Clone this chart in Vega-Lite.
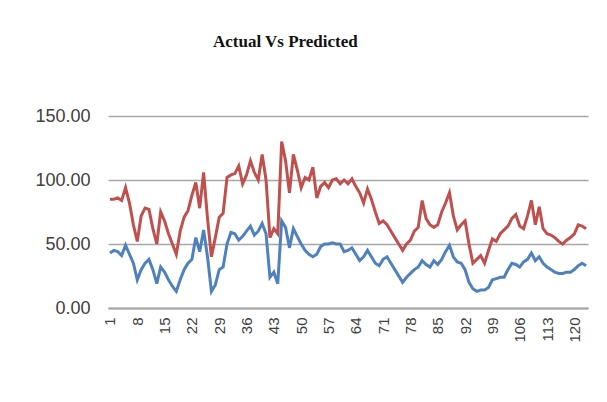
{
  "$schema": "https://vega.github.io/schema/vega-lite/v6.json",
  "width": 480,
  "height": 192,
  "autosize": {"type": "none"},
  "padding": {"left": 108, "top": 116, "right": 19, "bottom": 94},
  "background": "white",
  "title": {
    "text": "Actual Vs Predicted",
    "anchor": "start",
    "dx": 178,
    "offset": 56,
    "font": "Liberation Serif",
    "fontSize": 17,
    "fontWeight": "bold",
    "color": "#111111"
  },
  "config": {
    "view": {"stroke": null},
    "axis": {"labelFont": "Liberation Sans", "labelColor": "#404040", "title": null}
  },
  "data": {
    "values": [
      {"i":1,"p":85,"a":43},{"i":2,"p":85,"a":45},{"i":3,"p":86,"a":44},{"i":4,"p":84,"a":41},{"i":5,"p":94,"a":49},
      {"i":6,"p":82,"a":42},{"i":7,"p":65,"a":35},{"i":8,"p":52,"a":22},{"i":9,"p":72,"a":30},{"i":10,"p":78,"a":35},
      {"i":11,"p":77,"a":38},{"i":12,"p":62,"a":30},{"i":13,"p":50,"a":19},{"i":14,"p":75,"a":32},{"i":15,"p":68,"a":28},
      {"i":16,"p":58,"a":22},{"i":17,"p":50,"a":17},{"i":18,"p":42,"a":13},{"i":19,"p":60,"a":22},{"i":20,"p":71,"a":30},
      {"i":21,"p":76,"a":35},{"i":22,"p":88,"a":38},{"i":23,"p":98,"a":55},{"i":24,"p":78,"a":44},{"i":25,"p":106,"a":61},
      {"i":26,"p":70,"a":40},{"i":27,"p":40,"a":13},{"i":28,"p":55,"a":18},{"i":29,"p":71,"a":30},{"i":30,"p":74,"a":32},
      {"i":31,"p":102,"a":50},{"i":32,"p":104,"a":59},{"i":33,"p":105,"a":58},{"i":34,"p":111,"a":53},{"i":35,"p":97,"a":56},
      {"i":36,"p":104,"a":60},{"i":37,"p":115,"a":64},{"i":38,"p":106,"a":57},{"i":39,"p":100,"a":60},{"i":40,"p":120,"a":66},
      {"i":41,"p":100,"a":58},{"i":42,"p":55,"a":24},{"i":43,"p":62,"a":28},{"i":44,"p":58,"a":19},{"i":45,"p":130,"a":68},
      {"i":46,"p":115,"a":63},{"i":47,"p":90,"a":47},{"i":48,"p":120,"a":62},{"i":49,"p":108,"a":56},{"i":50,"p":94,"a":50},
      {"i":51,"p":102,"a":45},{"i":52,"p":100,"a":42},{"i":53,"p":110,"a":40},{"i":54,"p":86,"a":42},{"i":55,"p":95,"a":48},
      {"i":56,"p":98,"a":50},{"i":57,"p":94,"a":50},{"i":58,"p":100,"a":51},{"i":59,"p":101,"a":50},{"i":60,"p":97,"a":50},
      {"i":61,"p":100,"a":44},{"i":62,"p":97,"a":45},{"i":63,"p":101,"a":47},{"i":64,"p":95,"a":42},{"i":65,"p":90,"a":37},
      {"i":66,"p":82,"a":40},{"i":67,"p":93,"a":45},{"i":68,"p":85,"a":40},{"i":69,"p":75,"a":35},{"i":70,"p":66,"a":33},
      {"i":71,"p":68,"a":38},{"i":72,"p":65,"a":40},{"i":73,"p":60,"a":35},{"i":74,"p":55,"a":30},{"i":75,"p":50,"a":25},
      {"i":76,"p":45,"a":20},{"i":77,"p":50,"a":24},{"i":78,"p":53,"a":27},{"i":79,"p":60,"a":30},{"i":80,"p":63,"a":32},
      {"i":81,"p":84,"a":37},{"i":82,"p":70,"a":34},{"i":83,"p":65,"a":32},{"i":84,"p":63,"a":37},{"i":85,"p":65,"a":34},
      {"i":86,"p":75,"a":38},{"i":87,"p":82,"a":44},{"i":88,"p":90,"a":49},{"i":89,"p":72,"a":40},{"i":90,"p":61,"a":36},
      {"i":91,"p":65,"a":35},{"i":92,"p":68,"a":30},{"i":93,"p":50,"a":20},{"i":94,"p":35,"a":15},{"i":95,"p":38,"a":13},
      {"i":96,"p":41,"a":14},{"i":97,"p":35,"a":14},{"i":98,"p":45,"a":16},{"i":99,"p":54,"a":22},{"i":100,"p":52,"a":23},
      {"i":101,"p":58,"a":24},{"i":102,"p":61,"a":24},{"i":103,"p":64,"a":30},{"i":104,"p":70,"a":35},{"i":105,"p":73,"a":34},
      {"i":106,"p":64,"a":32},{"i":107,"p":62,"a":36},{"i":108,"p":72,"a":38},{"i":109,"p":84,"a":43},{"i":110,"p":65,"a":37},
      {"i":111,"p":79,"a":40},{"i":112,"p":62,"a":35},{"i":113,"p":58,"a":32},{"i":114,"p":57,"a":30},{"i":115,"p":55,"a":28},
      {"i":116,"p":52,"a":27},{"i":117,"p":50,"a":27},{"i":118,"p":53,"a":28},{"i":119,"p":55,"a":28},{"i":120,"p":58,"a":30},
      {"i":121,"p":65,"a":33},{"i":122,"p":64,"a":35},{"i":123,"p":62,"a":33}
    ]
  },
  "encoding": {
    "x": {
      "field": "i",
      "type": "quantitative",
      "scale": {"domain": [0.5, 123.5], "nice": false, "zero": false},
      "axis": {
        "values": [1, 8, 15, 22, 29, 36, 43, 50, 57, 64, 71, 78, 85, 92, 99, 106, 113, 120],
        "labelAngle": -90,
        "labelFontSize": 15,
        "labelPadding": 9,
        "ticks": false,
        "grid": false,
        "domainColor": "#a6a6a6",
        "domainWidth": 2,
        "labelColor": "#404040"
      }
    }
  },
  "layer": [
    {
      "mark": {"type": "line", "color": "#C0504D", "strokeWidth": 3},
      "encoding": {
        "y": {
          "field": "p",
          "type": "quantitative",
          "scale": {"domain": [0, 150], "nice": false},
          "axis": {
            "values": [0, 50, 100, 150],
            "format": ".2f",
            "labelFontSize": 18,
            "labelPadding": 18,
            "ticks": false,
            "domain": false,
            "grid": true,
            "gridColor": "#a6a6a6",
            "gridWidth": 1.5
          }
        }
      }
    },
    {
      "mark": {"type": "line", "color": "#4F81BD", "strokeWidth": 3},
      "encoding": {
        "y": {"field": "a", "type": "quantitative"}
      }
    }
  ]
}
